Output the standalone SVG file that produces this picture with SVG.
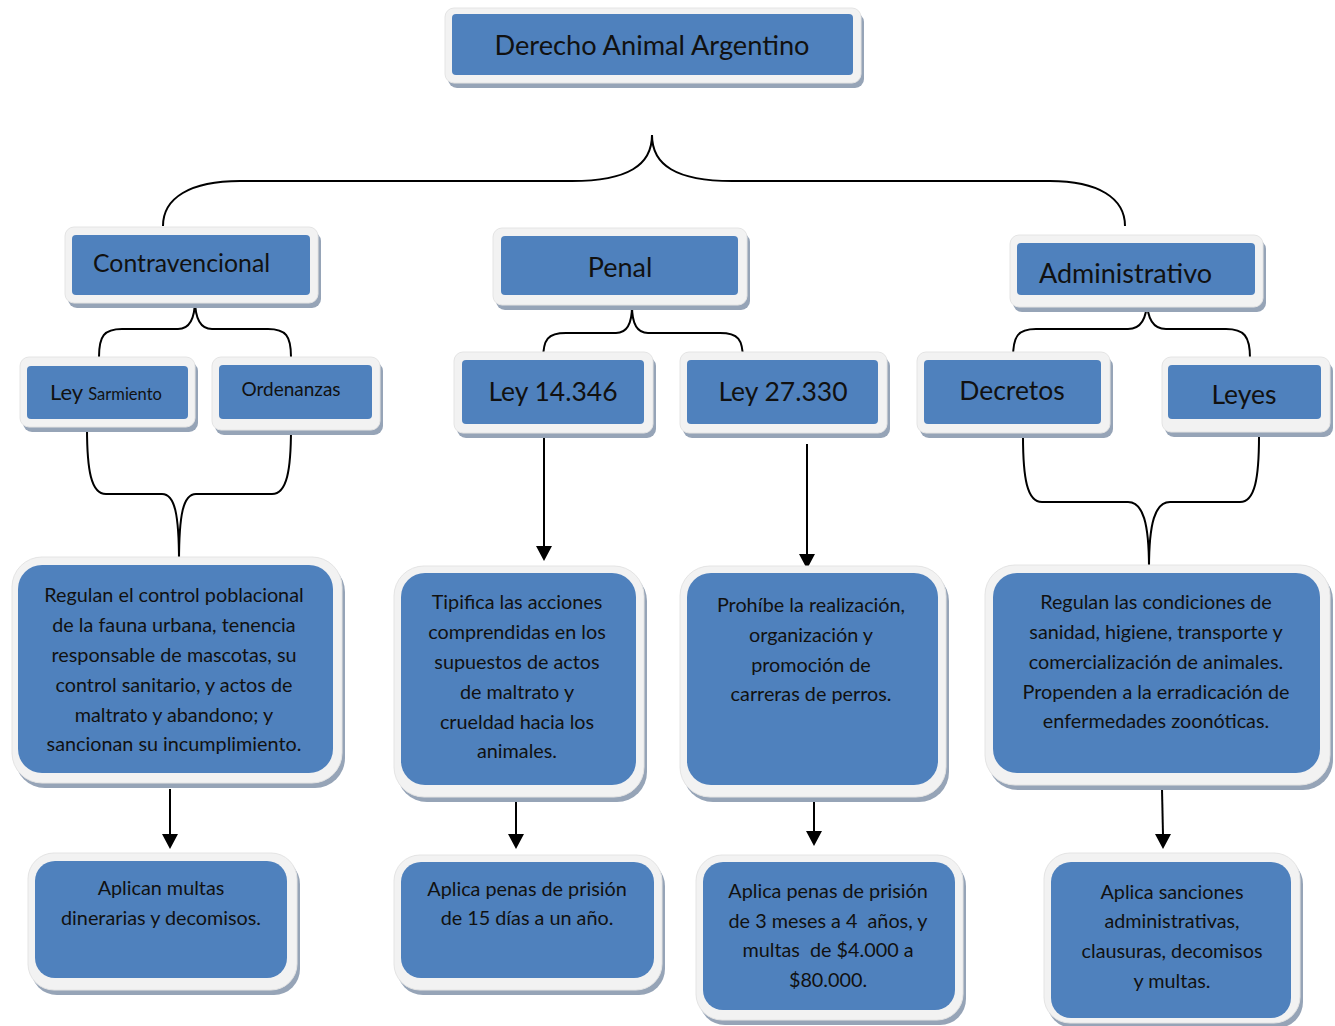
<svg xmlns="http://www.w3.org/2000/svg" width="1335" height="1026" viewBox="0 0 1335 1026">
<style>
.sh{fill:#96a4b7}
.fr{fill:#f2f2f2;stroke:#e4e4e4;stroke-width:1}
.bl{fill:#4f81bd}
.t{font-family:Lato,"Open Sans",sans-serif;fill:#111}
.c{text-anchor:middle}
.b{font-size:19.8px}
.ln{fill:none;stroke:#000;stroke-width:2}
</style>
<rect width="1335" height="1026" fill="#fff"/>

<g id="connectors">
<path class="ln" d="M163,226 C163,198 190,181 240,181 L572,181 C628,181 652,165 652,135 C652,165 676,181 732,181 L1050,181 C1098,181 1125,198 1125,226"/>
<path class="ln" d="M99,357 C99,336 104,329 122,329 L178,329 C190,329 195,318 195,299 C195,318 200,329 212,329 L268,329 C286,329 291,336 291,357"/>
<path class="ln" d="M543,360 C543,339 548,333 566,333 L616,333 C628,333 632,322 632,306 C632,322 636,333 648,333 L720,333 C738,333 743,339 743,360"/>
<path class="ln" d="M1013,358 C1013,336 1018,329 1036,329 L1128,329 C1141,329 1147,318 1147,299 C1147,318 1153,329 1166,329 L1226,329 C1244,329 1250,336 1250,358"/>
<path class="ln" d="M87,428 C87,470 91,494 106,494 L162,494 C175,494 179,515 179,562 C179,515 183,494 196,494 L272,494 C287,494 291,470 291,428"/>
<path class="ln" d="M1023,436 C1023,478 1027,502 1042,502 L1128,502 C1143,502 1149,523 1149,568 C1149,523 1155,502 1170,502 L1240,502 C1255,502 1259,478 1259,436"/>
<path class="ln" d="M544,437 L544,547"/>
<path class="ln" d="M807,444 L807,555"/>
<path class="ln" d="M170,789 L170,835"/>
<path class="ln" d="M516,802 L516,835"/>
<path class="ln" d="M814,802 L814,832"/>
<path class="ln" d="M1162,789 L1163,835"/>
<path d="M536,546 L552,546 L544,561 Z"/>
<path d="M799,554 L815,554 L807,569 Z"/>
<path d="M162,834 L178,834 L170,849 Z"/>
<path d="M508,834 L524,834 L516,849 Z"/>
<path d="M806,831 L822,831 L814,846 Z"/>
<path d="M1155,834 L1171,834 L1163,849 Z"/>
</g>

<g id="title">
<rect class="sh" x="448" y="13" width="416" height="75" rx="9"/>
<rect class="fr" x="445" y="8" width="416" height="75" rx="9"/>
<rect class="bl" x="452" y="14" width="401" height="61" rx="4"/>
<text class="t c" x="652" y="55" font-size="27.2">Derecho Animal Argentino</text>
</g>

<g id="contravencional">
<rect class="sh" x="68" y="232" width="253" height="76" rx="9"/>
<rect class="fr" x="65" y="227" width="253" height="76" rx="9"/>
<rect class="bl" x="72" y="235" width="238" height="60" rx="4"/>
<text class="t" x="93" y="272" font-size="24.8">Contravencional</text>
</g>

<g id="penal">
<rect class="sh" x="496" y="233" width="254" height="77" rx="9"/>
<rect class="fr" x="493" y="228" width="254" height="77" rx="9"/>
<rect class="bl" x="501" y="236" width="237" height="59" rx="4"/>
<text class="t c" x="620" y="277" font-size="27">Penal</text>
</g>

<g id="administrativo">
<rect class="sh" x="1013" y="240" width="253" height="72" rx="9"/>
<rect class="fr" x="1010" y="235" width="253" height="72" rx="9"/>
<rect class="bl" x="1017" y="243" width="238" height="52" rx="4"/>
<text class="t" x="1039" y="283" font-size="27">Administrativo</text>
</g>

<g id="ley-sarmiento">
<rect class="sh" x="23" y="362" width="175" height="70" rx="9"/>
<rect class="fr" x="20" y="357" width="175" height="70" rx="9"/>
<rect class="bl" x="27" y="366" width="161" height="53" rx="4"/>
<text class="t" x="50" y="400" font-size="22">Ley <tspan font-size="16.5">Sarmiento</tspan></text>
</g>

<g id="ordenanzas">
<rect class="sh" x="215" y="362" width="168" height="73" rx="9"/>
<rect class="fr" x="212" y="357" width="168" height="73" rx="9"/>
<rect class="bl" x="219" y="365" width="153" height="54" rx="4"/>
<text class="t c" x="291" y="396" font-size="19">Ordenanzas</text>
</g>

<g id="ley-14346">
<rect class="sh" x="457" y="357" width="199" height="81" rx="9"/>
<rect class="fr" x="454" y="352" width="199" height="81" rx="9"/>
<rect class="bl" x="462" y="360" width="182" height="64" rx="4"/>
<text class="t c" x="553" y="401" font-size="26.5">Ley 14.346</text>
</g>

<g id="ley-27330">
<rect class="sh" x="683" y="357" width="207" height="81" rx="9"/>
<rect class="fr" x="680" y="352" width="207" height="81" rx="9"/>
<rect class="bl" x="687" y="360" width="191" height="64" rx="4"/>
<text class="t c" x="783" y="401" font-size="26.5">Ley 27.330</text>
</g>

<g id="decretos">
<rect class="sh" x="920" y="357" width="193" height="81" rx="9"/>
<rect class="fr" x="917" y="352" width="193" height="81" rx="9"/>
<rect class="bl" x="924" y="360" width="177" height="64" rx="4"/>
<text class="t c" x="1012" y="400" font-size="26.5">Decretos</text>
</g>

<g id="leyes">
<rect class="sh" x="1165" y="362" width="168" height="75" rx="9"/>
<rect class="fr" x="1162" y="357" width="168" height="75" rx="9"/>
<rect class="bl" x="1168" y="365" width="153" height="54" rx="4"/>
<text class="t c" x="1244" y="404" font-size="26.5">Leyes</text>
</g>

<g id="contra-desc">
<rect class="sh" x="15" y="562" width="330" height="226" rx="30"/>
<rect class="fr" x="12" y="557" width="330" height="226" rx="30"/>
<rect class="bl" x="18" y="565" width="315" height="208" rx="24"/>
<text class="t c b" x="174"><tspan x="174" y="602">Regulan el control poblacional</tspan><tspan x="174" y="632">de la fauna urbana, tenencia</tspan><tspan x="174" y="662">responsable de mascotas, su</tspan><tspan x="174" y="692">control sanitario, y actos de</tspan><tspan x="174" y="722">maltrato y abandono; y</tspan><tspan x="174" y="751">sancionan su incumplimiento.</tspan></text>
</g>

<g id="ley14-desc">
<rect class="sh" x="397" y="571" width="250" height="231" rx="30"/>
<rect class="fr" x="394" y="566" width="250" height="231" rx="30"/>
<rect class="bl" x="401" y="573" width="235" height="212" rx="24"/>
<text class="t c b" x="517"><tspan x="517" y="609">Tipifica las acciones</tspan><tspan x="517" y="639">comprendidas en los</tspan><tspan x="517" y="669">supuestos de actos</tspan><tspan x="517" y="699">de maltrato y</tspan><tspan x="517" y="729">crueldad hacia los</tspan><tspan x="517" y="758">animales.</tspan></text>
</g>

<g id="ley27-desc">
<rect class="sh" x="683" y="571" width="266" height="231" rx="30"/>
<rect class="fr" x="680" y="566" width="266" height="231" rx="30"/>
<rect class="bl" x="687" y="573" width="251" height="212" rx="24"/>
<text class="t c b" x="811"><tspan x="811" y="612">Prohíbe la realización,</tspan><tspan x="811" y="642">organización y</tspan><tspan x="811" y="672">promoción de</tspan><tspan x="811" y="701">carreras de perros.</tspan></text>
</g>

<g id="admin-desc">
<rect class="sh" x="988" y="570" width="345" height="220" rx="30"/>
<rect class="fr" x="985" y="565" width="345" height="220" rx="30"/>
<rect class="bl" x="993" y="573" width="327" height="200" rx="24"/>
<text class="t c b" x="1156"><tspan x="1156" y="609">Regulan las condiciones de</tspan><tspan x="1156" y="639">sanidad, higiene, transporte y</tspan><tspan x="1156" y="669">comercialización de animales.</tspan><tspan x="1156" y="699">Propenden a la erradicación de</tspan><tspan x="1156" y="728">enfermedades zoonóticas.</tspan></text>
</g>

<g id="contra-sancion">
<rect class="sh" x="31" y="858" width="269" height="137" rx="26"/>
<rect class="fr" x="28" y="853" width="269" height="137" rx="26"/>
<rect class="bl" x="35" y="861" width="252" height="117" rx="20"/>
<text class="t c b" x="161"><tspan x="161" y="895">Aplican multas</tspan><tspan x="161" y="925">dinerarias y decomisos.</tspan></text>
</g>

<g id="ley14-sancion">
<rect class="sh" x="397" y="860" width="268" height="135" rx="26"/>
<rect class="fr" x="394" y="855" width="268" height="135" rx="26"/>
<rect class="bl" x="401" y="862" width="253" height="116" rx="20"/>
<text class="t c b" x="527"><tspan x="527" y="896">Aplica penas de prisión</tspan><tspan x="527" y="925">de 15 días a un año.</tspan></text>
</g>

<g id="ley27-sancion">
<rect class="sh" x="699" y="860" width="267" height="165" rx="26"/>
<rect class="fr" x="696" y="855" width="267" height="165" rx="26"/>
<rect class="bl" x="703" y="862" width="252" height="148" rx="20"/>
<text class="t c b" x="828" xml:space="preserve"><tspan x="828" y="898">Aplica penas de prisión</tspan><tspan x="828" y="928">de 3 meses a 4  años, y</tspan><tspan x="828" y="957">multas  de $4.000 a</tspan><tspan x="828" y="987">$80.000.</tspan></text>
</g>

<g id="admin-sancion">
<rect class="sh" x="1047" y="858" width="256" height="170" rx="26"/>
<rect class="fr" x="1044" y="853" width="256" height="170" rx="26"/>
<rect class="bl" x="1051" y="862" width="240" height="156" rx="20"/>
<text class="t c b" x="1172"><tspan x="1172" y="899">Aplica sanciones</tspan><tspan x="1172" y="928">administrativas,</tspan><tspan x="1172" y="958">clausuras, decomisos</tspan><tspan x="1172" y="988">y multas.</tspan></text>
</g>
</svg>
